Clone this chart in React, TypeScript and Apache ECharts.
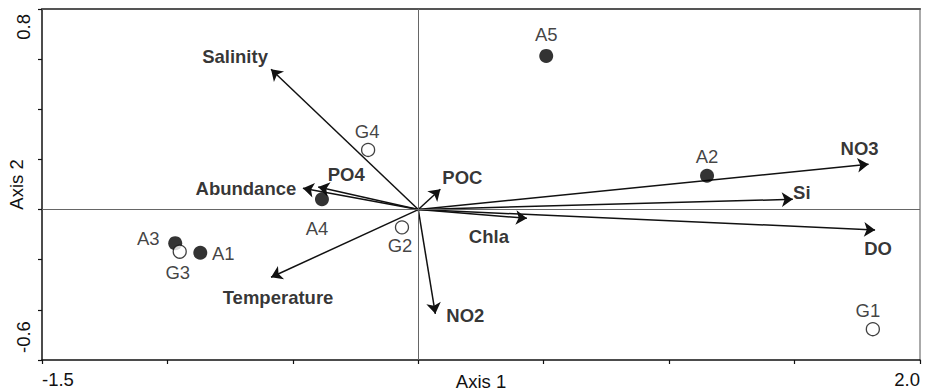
import React, { useEffect, useRef } from "react";
import * as echarts from "echarts";

// ---- data ----
const filledSites = ["A1", "A2", "A3", "A4", "A5"];
const filledAxis1 = [-0.869, 1.151, -0.969, -0.384, 0.51];
const filledAxis2 = [-0.172, 0.135, -0.134, 0.041, 0.613];

const openSites = ["G1", "G2", "G3", "G4"];
const openAxis1 = [1.812, -0.065, -0.951, -0.2];
const openAxis2 = [-0.477, -0.071, -0.168, 0.238];

const variables = ["Salinity", "Abundance", "PO4", "POC", "Chla", "NO3", "Si", "DO", "NO2", "Temperature"];
const varAxis1 = [-0.587, -0.46, -0.399, 0.088, 0.433, 1.795, 1.493, 1.821, 0.068, -0.587];
const varAxis2 = [0.56, 0.085, 0.09, 0.081, -0.035, 0.181, 0.041, -0.081, -0.416, -0.27];

const xTickLabels = ["-1.5", "2.0"];
const yTickLabels = ["-0.6", "0.8"];

// ---- label placement (pixel offsets from the mark) ----
const varLabelOffset: Record<string, [number, number]> = {
  Salinity: [-36, -13],
  Abundance: [-57, 0],
  PO4: [28, -13],
  POC: [22, -12],
  Chla: [-38, 18],
  NO3: [-9, -16],
  Si: [9, -7],
  DO: [3, 19],
  NO2: [30, 2],
  Temperature: [7, 20],
};
const siteLabelOffset: Record<string, [number, number]> = {
  A1: [23, 1],
  A2: [0, -19],
  A3: [-27, -5],
  A4: [-5, 29],
  A5: [0, -21],
  G1: [-5, -19],
  G2: [-2, 18],
  G3: [-2, 21],
  G4: [-1, -18],
};

const FONT = '"Liberation Sans", Arial, Helvetica, sans-serif';
const FS = 18.5;

export default function App() {
  const ref = useRef<HTMLDivElement>(null);
  useEffect(() => {
    const chart = echarts.init(ref.current!, null, { renderer: "svg" });
    const pick = (v: number, labels: string[]) => {
      const s = v.toFixed(1);
      return labels.includes(s) ? s : "";
    };
    const siteData = (names: string[], xs: number[], ys: number[]) =>
      names.map((n, i) => ({
        name: n,
        value: [xs[i], ys[i]],
        label: { offset: siteLabelOffset[n] },
      }));

    const option: any = {
      animation: false,
      textStyle: { fontFamily: FONT },
      grid: { left: 42, right: 14, top: 9, bottom: 31, containLabel: false, outerBoundsMode: "none" },
      xAxis: [
        {
          type: "value",
          min: -1.5,
          max: 2.0,
          interval: 0.5,
          name: "Axis 1",
          nameLocation: "middle",
          nameGap: 12,
          nameMoveOverlap: false,
          nameTextStyle: { fontFamily: FONT, fontSize: FS, color: "#111", verticalAlign: "top" },
          axisLine: { show: true, onZero: false, lineStyle: { color: "#111", width: 1.5 } },
          axisTick: { show: true, length: 4, lineStyle: { color: "#111", width: 1.2 } },
          axisLabel: {
            show: true,
            margin: 10,
            fontFamily: FONT,
            fontSize: FS,
            color: "#111",
            alignMinLabel: "left",
            alignMaxLabel: "right",
            showMinLabel: true,
            showMaxLabel: true,
            formatter: (v: number) => pick(v, xTickLabels),
          },
          splitLine: { show: false },
        },
        {
          type: "value",
          position: "top",
          min: -1.5,
          max: 2.0,
          interval: 0.5,
          axisLine: { show: true, onZero: false, lineStyle: { color: "#555", width: 2 } },
          axisTick: { show: false },
          axisLabel: { show: false },
          splitLine: { show: false },
        },
      ],
      yAxis: [
        {
          type: "value",
          min: -0.6,
          max: 0.8,
          interval: 0.2,
          name: "Axis 2",
          nameLocation: "middle",
          nameGap: 16,
          nameRotate: 90,
          nameMoveOverlap: false,
          nameTextStyle: { fontFamily: FONT, fontSize: FS, color: "#111" },
          axisLine: { show: true, onZero: false, lineStyle: { color: "#111", width: 1.5 } },
          axisTick: { show: true, length: 4, lineStyle: { color: "#111", width: 1.2 } },
          axisLabel: {
            show: true,
            rotate: 90,
            margin: 9,
            padding: [0, 5, 0, 7],
            fontFamily: FONT,
            fontSize: FS,
            color: "#111",
            alignMinLabel: "left",
            alignMaxLabel: "right",
            showMinLabel: true,
            showMaxLabel: true,
            formatter: (v: number) => pick(v, yTickLabels),
          },
          splitLine: { show: false },
        },
        {
          type: "value",
          position: "right",
          min: -0.6,
          max: 0.8,
          interval: 0.2,
          axisLine: { show: true, onZero: false, lineStyle: { color: "#aaa", width: 2 } },
          axisTick: { show: false },
          axisLabel: { show: false },
          splitLine: { show: false },
        },
      ],
      series: [
        {
          name: "varLabels",
          type: "scatter",
          z: 1,
          silent: true,
          symbolSize: 0.1,
          itemStyle: { color: "transparent" },
          data: variables.map((n, i) => ({
            name: n,
            value: [varAxis1[i], varAxis2[i]],
            label: { offset: varLabelOffset[n] },
          })),
          label: {
            show: true,
            position: "inside",
            formatter: "{b}",
            fontFamily: FONT,
            fontSize: FS,
            fontWeight: "bold",
            color: "#000",
            align: "center",
            verticalAlign: "middle",
          },
          markLine: {
            silent: true,
            symbol: "none",
            label: { show: false },
            lineStyle: { color: "#666", width: 1, type: "solid" },
            data: [{ xAxis: 0 }, { yAxis: 0 }],
          },
        },
        {
          name: "arrows",
          type: "lines",
          coordinateSystem: "cartesian2d",
          z: 2,
          silent: true,
          symbol: ["none", "arrow"],
          symbolSize: 11,
          lineStyle: { color: "#111", width: 1.5, curveness: 0, opacity: 1 },
          data: variables.map((n, i) => ({
            name: n,
            coords: [
              [0, 0],
              [varAxis1[i], varAxis2[i]],
            ],
          })),
        },
        {
          name: "A",
          type: "scatter",
          z: 3,
          symbol: "circle",
          symbolSize: 14,
          itemStyle: { color: "#000" },
          data: siteData(filledSites, filledAxis1, filledAxis2),
          label: {
            show: true,
            position: "inside",
            formatter: "{b}",
            fontFamily: FONT,
            fontSize: FS,
            color: "#111",
            align: "center",
            verticalAlign: "middle",
          },
        },
        {
          name: "G",
          type: "scatter",
          z: 4,
          symbol: "circle",
          symbolSize: 13,
          itemStyle: { color: "#fff", borderColor: "#111", borderWidth: 1.3 },
          data: siteData(openSites, openAxis1, openAxis2),
          label: {
            show: true,
            position: "inside",
            formatter: "{b}",
            fontFamily: FONT,
            fontSize: FS,
            color: "#111",
            align: "center",
            verticalAlign: "middle",
          },
        },
      ],
    };
    chart.setOption(option);
    return () => chart.dispose();
  }, []);
  return (
    <div
      ref={ref}
      style={{ position: "fixed", left: 0, top: 0, width: 934, height: 391, background: "#fff" }}
    />
  );
}
